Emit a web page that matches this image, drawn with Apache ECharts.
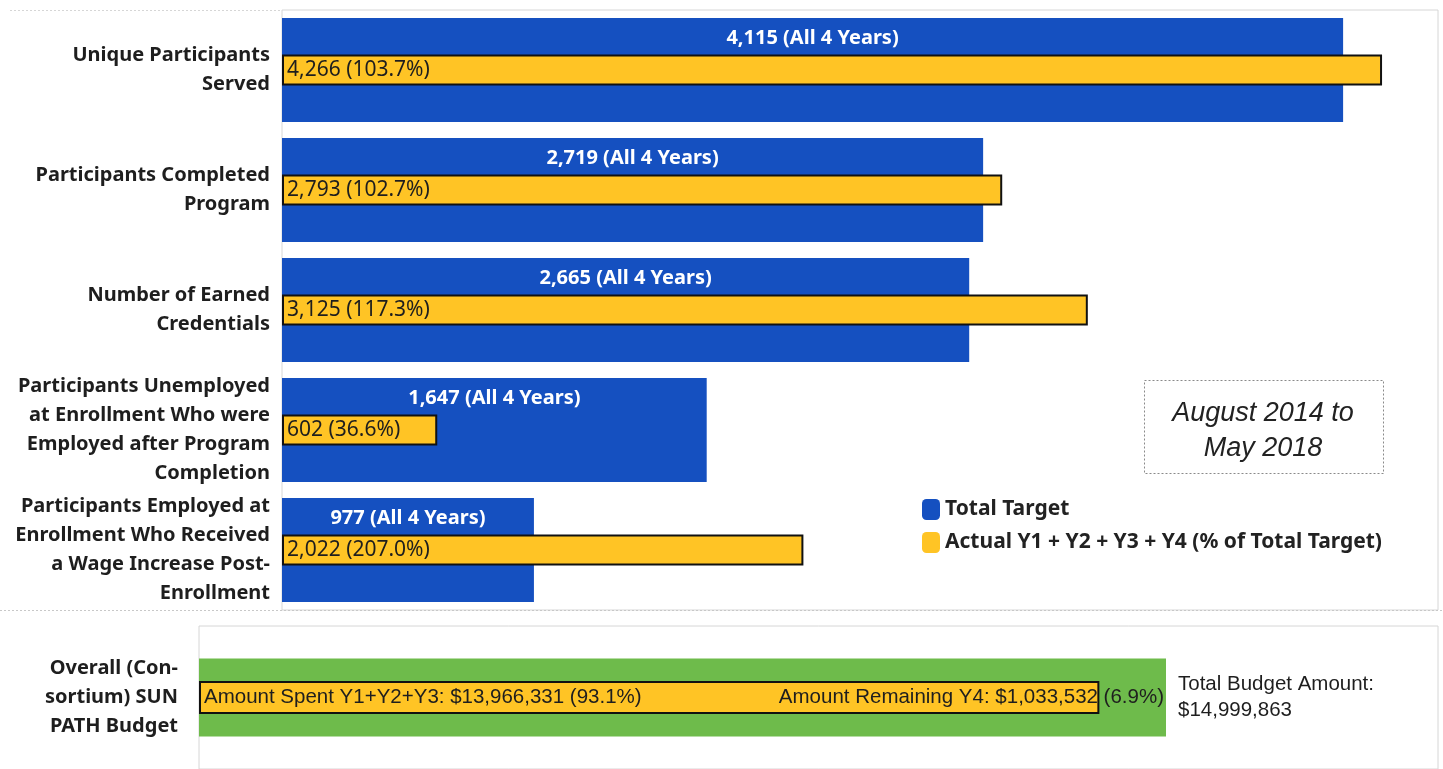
<!DOCTYPE html>
<html>
<head>
<meta charset="utf-8">
<title>SUN PATH outcomes</title>
<script src="https://cdn.jsdelivr.net/npm/echarts@6/dist/echarts.min.js"></script>
<style>
  html, body { margin: 0; padding: 0; background: #fff; }
  #chart { width: 1443px; height: 769px; }
</style>
</head>
<body>
<div id="chart"></div>
<script>
// outcome measures (top chart)
var categories = [
    'Unique Participants\nServed',
    'Participants Completed\nProgram',
    'Number of Earned\nCredentials',
    'Participants Unemployed\nat Enrollment Who were\nEmployed after Program\nCompletion',
    'Participants Employed at\nEnrollment Who Received\na Wage Increase Post-\nEnrollment'
];
var total_target = [4115, 2719, 2665, 1647, 977];
var actual = [4266, 2793, 3125, 602, 2022];
var actual_pct = [103.7, 102.7, 117.3, 36.6, 207.0];

// budget (bottom chart)
var budget_category = ['Overall (Con-\nsortium) SUN\nPATH Budget'];
var budget_total = [14999863];
var budget_spent = [13966331];
var budget_spent_pct = [93.1];
var budget_remaining = [1033532];
var budget_remaining_pct = [6.9];

var period_text = 'August 2014 to\nMay 2018';

var BLUE = '#1550C0';
var YELLOW = '#FFC425';
var GREEN = '#6EBB4B';
var FONT = '"Noto Sans", sans-serif';
var NARROW = '"Liberation Sans Narrow", "Liberation Sans", sans-serif';

function num(v) {
    return v.toLocaleString('en-US');
}

var chartDom = document.getElementById('chart');
var myChart = echarts.init(chartDom);
var option;

option = {
    animation: false,
    textStyle: { fontFamily: FONT },
    legend: {
        orient: 'vertical',
        left: 917,
        top: 494,
        itemWidth: 18,
        itemHeight: 21,
        itemGap: 12,
        itemStyle: { borderWidth: 0 },
        textStyle: { fontFamily: FONT, fontWeight: 'bold', fontSize: 21, color: '#222' },
        data: ['Total Target', 'Actual Y1 + Y2 + Y3 + Y4 (% of Total Target)']
    },
    grid: [
        { left: 282, top: 10, width: 1156, height: 600, show: true, borderColor: '#d6d6d6', borderWidth: 1 },
        { left: 199, top: 626, width: 1239, height: 148, show: true, borderColor: '#d6d6d6', borderWidth: 1 }
    ],
    xAxis: [
        { gridIndex: 0, type: 'value', min: 0, max: 4483, show: false },
        { gridIndex: 1, type: 'value', min: 0, max: 19219000, show: false }
    ],
    yAxis: [
        {
            gridIndex: 0, type: 'category', inverse: true, data: categories,
            axisLine: { show: false }, axisTick: { show: false },
            axisLabel: { fontFamily: FONT, fontWeight: 'bold', fontSize: 20, lineHeight: 29, color: '#1e1e1e', margin: 12 }
        },
        { gridIndex: 0, type: 'category', inverse: true, data: categories, show: false },
        {
            gridIndex: 1, type: 'category', inverse: true, data: budget_category,
            axisLine: { show: false }, axisTick: { show: false },
            axisLabel: { fontFamily: FONT, fontWeight: 'bold', fontSize: 20, lineHeight: 29, color: '#1e1e1e', margin: 21 }
        },
        { gridIndex: 1, type: 'category', inverse: true, data: budget_category, show: false }
    ],
    graphic: [
        { type: 'line', shape: { x1: 10, y1: 10.5, x2: 282, y2: 10.5 }, style: { stroke: '#d6d6d6', lineWidth: 1, lineDash: [2, 2] } },
        { type: 'line', shape: { x1: 0, y1: 610.5, x2: 1443, y2: 610.5 }, style: { stroke: '#c8c8c8', lineWidth: 1, lineDash: [2, 2] } },
        {
            type: 'rect', left: 1144, top: 380,
            shape: { width: 239, height: 93 },
            style: { fill: '#fff', stroke: '#8a8a8a', lineWidth: 1, lineDash: [2, 2] }
        },
        {
            type: 'text', x: 1263, y: 396,
            style: {
                text: period_text, fill: '#222', fontFamily: '"Liberation Sans", sans-serif',
                fontStyle: 'italic', fontSize: 27, lineHeight: 35, align: 'center'
            }
        }
    ],
    series: [
        {
            name: 'Total Target',
            type: 'bar', xAxisIndex: 0, yAxisIndex: 0,
            data: total_target, barWidth: 104,
            itemStyle: { color: BLUE },
            label: {
                show: true, position: 'insideTop', distance: 10,
                color: '#fff', fontFamily: FONT, fontSize: 20, fontWeight: 'bold',
                formatter: function (p) { return num(p.value) + ' (All 4 Years)'; }
            }
        },
        {
            name: 'Actual Y1 + Y2 + Y3 + Y4 (% of Total Target)',
            type: 'bar', xAxisIndex: 0, yAxisIndex: 1,
            data: actual, barWidth: 31,
            itemStyle: { color: YELLOW, borderColor: '#111', borderWidth: 2 },
            label: {
                show: true, position: 'insideLeft', distance: 5,
                color: '#1e1e1e', fontFamily: FONT, fontSize: 21,
                formatter: function (p) { return num(p.value) + ' (' + actual_pct[p.dataIndex].toFixed(1) + '%)'; }
            }
        },
        {
            name: 'Total Budget',
            type: 'bar', xAxisIndex: 1, yAxisIndex: 2,
            data: budget_total, barWidth: 78, barGap: '-100%',
            itemStyle: { color: GREEN },
            label: {
                show: true, position: 'right', distance: 12,
                color: '#1e1e1e', fontFamily: NARROW, fontSize: 20.5, lineHeight: 26,
                formatter: function (p) { return 'Total Budget Amount:\n$' + num(p.value); }
            }
        },
        {
            name: 'Amount Remaining',
            type: 'bar', xAxisIndex: 1, yAxisIndex: 2,
            data: budget_total, barWidth: 78, barGap: '-100%', z: 10,
            itemStyle: { color: 'rgba(0,0,0,0)' },
            label: {
                show: true, position: 'insideRight', distance: 2,
                color: '#1e1e1e', fontFamily: NARROW, fontSize: 20.5,
                formatter: function (p) {
                    return 'Amount Remaining Y4: $' + num(budget_remaining[p.dataIndex]) +
                        ' (' + budget_remaining_pct[p.dataIndex].toFixed(1) + '%)';
                }
            }
        },
        {
            name: 'Amount Spent',
            type: 'bar', xAxisIndex: 1, yAxisIndex: 3,
            data: budget_spent, barWidth: 33,
            itemStyle: { color: YELLOW, borderColor: '#111', borderWidth: 2 },
            label: {
                show: true, position: 'insideLeft', distance: 5,
                color: '#1e1e1e', fontFamily: NARROW, fontSize: 20.5,
                formatter: function (p) {
                    return 'Amount Spent Y1+Y2+Y3: $' + num(p.value) +
                        ' (' + budget_spent_pct[p.dataIndex].toFixed(1) + '%)';
                }
            }
        }
    ]
};

option && myChart.setOption(option);
</script>
</body>
</html>
